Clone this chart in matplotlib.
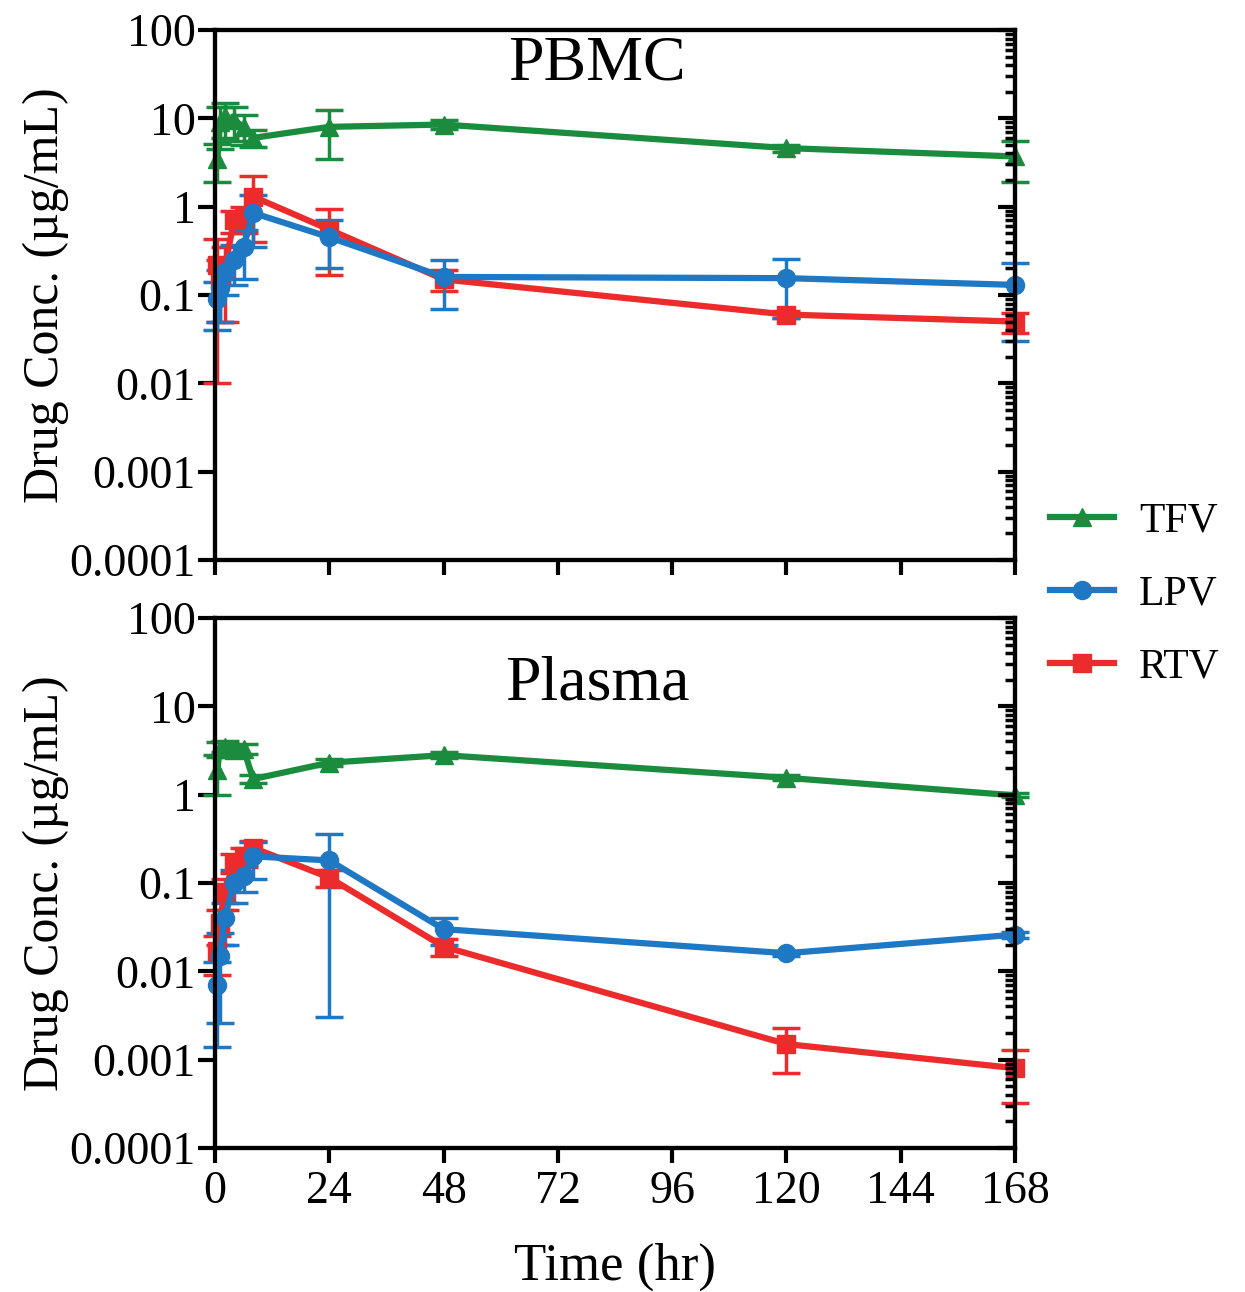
import numpy as np
import matplotlib.pyplot as plt
from matplotlib.lines import Line2D
from matplotlib.ticker import LogLocator, FixedLocator, NullFormatter

plt.rcParams['font.family'] = ['Liberation Serif', 'DejaVu Serif']

# sampling times (hr)
time_hr = [0.5, 1, 2, 4, 6, 8, 24, 48, 120, 168]

# PBMC (mean, SD)
pbmc_tfv = [3.5, 9.0, 10.5, 9.5, 8.0, 6.0, 8.0, 8.5, 4.6, 3.7]
pbmc_tfv_sd = [1.6, 4.5, 4.5, 4.0, 3.0, 1.3, 4.5, 1.0, 0.4, 1.8]
pbmc_lpv = [0.09, 0.12, 0.18, 0.25, 0.35, 0.85, 0.45, 0.16, 0.155, 0.13]
pbmc_lpv_sd = [0.05, 0.07, 0.08, 0.12, 0.2, 0.5, 0.25, 0.09, 0.1, 0.1]
pbmc_rtv = [0.22, 0.15, 0.2, 0.7, 0.75, 1.3, 0.55, 0.15, 0.06, 0.05]
pbmc_rtv_sd = [0.21, 0.1, 0.15, 0.2, 0.25, 0.9, 0.38, 0.04, 0.005, 0.013]

# Plasma (mean, SD)
plasma_tfv = [1.9, 3.3, 3.5, 3.2, 3.3, 1.5, 2.3, 2.8, 1.55, 0.98]
plasma_tfv_sd = [0.9, 0.6, 0.5, 0.4, 0.4, 0.15, 0.2, 0.2, 0.1, 0.05]
plasma_lpv = [0.007, 0.015, 0.04, 0.1, 0.12, 0.2, 0.18, 0.03, 0.016, 0.026]
plasma_lpv_sd = [0.0056, 0.0124, 0.02, 0.04, 0.04, 0.09, 0.177, 0.01, 0.001, 0.002]
plasma_rtv = [0.017, 0.035, 0.08, 0.17, 0.2, 0.25, 0.115, 0.019, 0.0015, 0.0008]
plasma_rtv_sd = [0.008, 0.015, 0.03, 0.04, 0.05, 0.05, 0.025, 0.004, 0.0008, 0.00048]

drugs = ['TFV', 'LPV', 'RTV']
colors = {'TFV': '#1b8c3e', 'LPV': '#1f78c4', 'RTV': '#ec2c2c'}
markers = {'TFV': '^', 'LPV': 'o', 'RTV': 's'}

x_ticks = [0, 24, 48, 72, 96, 120, 144, 168]
y_ticks = [1e-4, 1e-3, 1e-2, 1e-1, 1, 10, 100]
y_labels = ['0.0001', '0.001', '0.01', '0.1', '1', '10', '100']

panels = [
    ('PBMC', {'TFV': (pbmc_tfv, pbmc_tfv_sd), 'LPV': (pbmc_lpv, pbmc_lpv_sd),
              'RTV': (pbmc_rtv, pbmc_rtv_sd)}, 0.5666, 0.934),
    ('Plasma', {'TFV': (plasma_tfv, plasma_tfv_sd), 'LPV': (plasma_lpv, plasma_lpv_sd),
                'RTV': (plasma_rtv, plasma_rtv_sd)}, 0.1115, 0.874),
]


def log_axis(a):
    a.set_yscale('log')
    a.set_ylim(1e-4, 100)
    a.yaxis.set_major_locator(FixedLocator(y_ticks))
    a.yaxis.set_minor_locator(LogLocator(base=10, subs=np.arange(2, 10)))
    a.yaxis.set_minor_formatter(NullFormatter())


fig = plt.figure(figsize=(12.45, 12.92), dpi=100)

for name, data, bottom, title_y in panels:
    ax = fig.add_axes([0.1727, bottom, 0.6426, 0.4102])
    # draw order: green, red, blue on top
    for d in ['TFV', 'RTV', 'LPV']:
        m, sd = data[d]
        ax.errorbar(time_hr, m, yerr=sd, color=colors[d], marker=markers[d],
                    markersize=13, linewidth=4.5, elinewidth=2.5, capsize=10,
                    capthick=2.5, clip_on=False, zorder=3)
    log_axis(ax)
    ax.set_xlim(0, 168)
    ax.set_xticks(x_ticks)
    ax.set_yticklabels(y_labels)
    for s in ax.spines.values():
        s.set_linewidth(3)
    ax.tick_params(axis='y', which='major', direction='out', length=12, width=3,
                   labelsize=33, pad=2)
    ax.tick_params(axis='y', which='minor', direction='out', length=7, width=2.5)
    ax.tick_params(axis='x', direction='out', length=11, width=3, labelsize=33, pad=5)
    ax.set_ylabel('Drug Conc. (µg/mL)', fontsize=36)
    ax.yaxis.set_label_coords(-0.183, 0.5)
    ax.text(0.478, title_y, name, transform=ax.transAxes,
            ha='center', va='center', fontsize=46)
    if name == 'PBMC':
        ax.set_xticklabels([])

    # right-hand axis with inward ticks
    rax = ax.twinx()
    log_axis(rax)
    rax.yaxis.set_major_formatter(NullFormatter())
    rax.tick_params(axis='y', which='major', direction='in', length=12, width=3)
    rax.tick_params(axis='y', which='minor', direction='in', length=7, width=2.5)
    for s in rax.spines.values():
        s.set_linewidth(3)

ax.set_xlabel('Time (hr)', fontsize=38)
ax.xaxis.set_label_coords(0.5, -0.178)

handles = [Line2D([], [], color=colors[d], marker=markers[d], markersize=13,
                  linewidth=4.5) for d in drugs]
fig.legend(handles, drugs, loc='center left', bbox_to_anchor=(0.843, 0.54),
           frameon=False, fontsize=30, handlelength=1.55, labelspacing=0.82,
           handletextpad=0.6, borderpad=0, borderaxespad=0)

plt.savefig('out.png', dpi=100)
